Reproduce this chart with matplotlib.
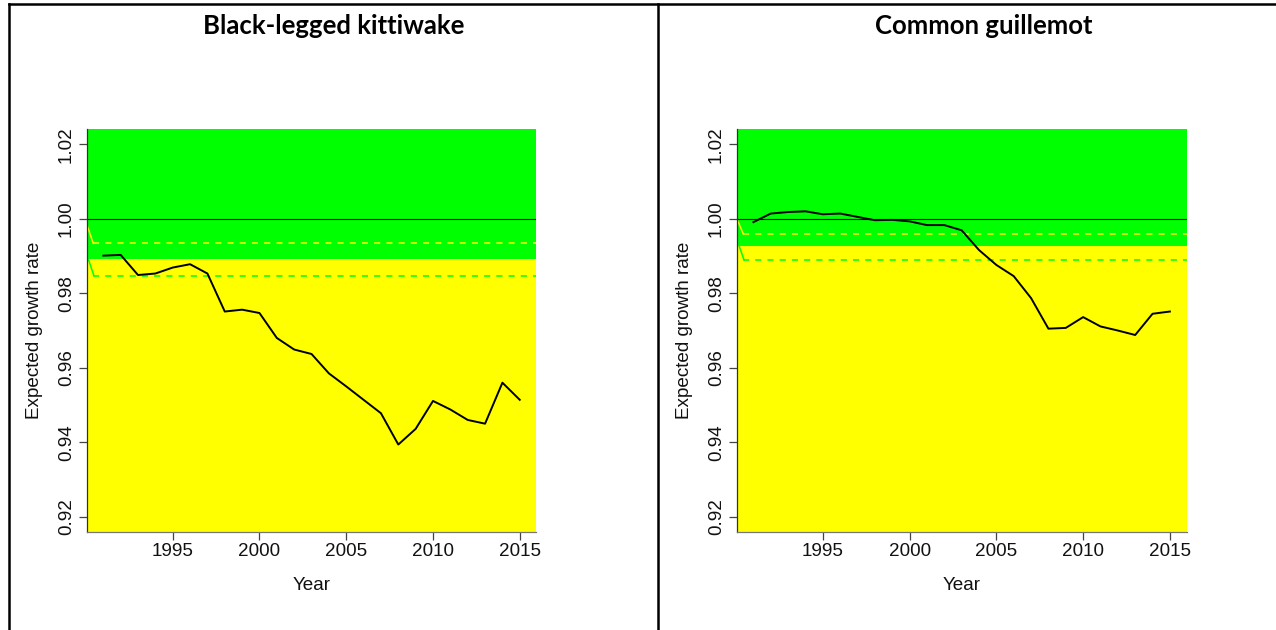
import numpy as np
import matplotlib
matplotlib.use('Agg')
from matplotlib import pyplot as plt
from matplotlib.lines import Line2D

plt.rcParams['font.family'] = ['Liberation Sans', 'DejaVu Sans']

years = np.arange(1991, 2016)

# expected growth rate per year
kittiwake = [0.9901, 0.9903, 0.9849, 0.9853, 0.9869, 0.9878, 0.9853, 0.9751, 0.9756,
             0.9747, 0.9680, 0.9649, 0.9637, 0.9585, 0.9550, 0.9514, 0.9478, 0.9394,
             0.9436, 0.9511, 0.9488, 0.9460, 0.9450, 0.9560, 0.9514]
guillemot = [0.9991, 1.0014, 1.0018, 1.0020, 1.0012, 1.0014, 1.0005, 0.9996, 0.9997,
             0.9993, 0.9983, 0.9983, 0.9969, 0.9916, 0.9876, 0.9846, 0.9787, 0.9705,
             0.9707, 0.9736, 0.9711, 0.9700, 0.9688, 0.9745, 0.9751]

species = ['Black-legged kittiwake', 'Common guillemot']
series = [kittiwake, guillemot]

# green/yellow split and the two dashed reference levels
boundary = [0.9891, 0.9928]
upper_ref = [0.9934, 0.9959]
lower_ref = [0.9847, 0.9889]
# where the dashed lines come in from at the left edge
upper_start = [0.9986, 1.0000]
lower_start = [0.9894, 0.9935]

xlo, xhi = 1990.04, 2015.96
ylo, yhi = 0.916, 1.024

fig = plt.figure(figsize=(12.76, 6.30), dpi=100)

axes_left = [0.0679, 0.5774]
title_x = [334, 984]

for i in range(2):
    ax = fig.add_axes([axes_left[i], 0.1560, 0.3525, 0.6387])
    ax.set_xlim(xlo, xhi)
    ax.set_ylim(ylo, yhi)

    ax.axhspan(boundary[i], yhi, color='#00ff00', lw=0, zorder=0)
    ax.axhspan(ylo, boundary[i], color='#ffff00', lw=0, zorder=0)

    ax.axhline(1.0, color='black', lw=0.8, zorder=2)

    dash = (0, (4.0, 4.0))
    ax.plot([1990.42, xhi], [upper_ref[i]] * 2, color='#ffff00', lw=1.1, ls=dash, zorder=2)
    ax.plot([1990.42, xhi], [lower_ref[i]] * 2, color='#00ff00', lw=1.1, ls=dash, zorder=2)
    ax.plot([xlo, 1990.42], [upper_start[i], upper_ref[i]], color='#ffff00', lw=1.1, zorder=2)
    ax.plot([xlo, 1990.38], [lower_start[i], lower_ref[i]], color='#ffff00', lw=1.1, zorder=2)
    ax.plot([xlo + 0.08, 1990.46], [lower_start[i], lower_ref[i]], color='#00ff00', lw=1.1, zorder=2)

    ax.plot(years, series[i], color='black', lw=1.4, zorder=3)

    for side in ['top', 'right']:
        ax.spines[side].set_visible(False)
    ax.spines['left'].set_color('#333333')
    ax.spines['bottom'].set_color('#777777')
    ax.spines['left'].set_linewidth(0.9)
    ax.spines['bottom'].set_linewidth(0.9)

    ax.set_xticks([1995, 2000, 2005, 2010, 2015])
    ax.set_yticks([0.92, 0.94, 0.96, 0.98, 1.00, 1.02])
    ax.set_yticklabels(['0.92', '0.94', '0.96', '0.98', '1.00', '1.02'],
                       rotation=90, va='center')
    ax.tick_params(axis='both', direction='out', length=5.5, width=0.9,
                   color='#444444', labelsize=13.6, labelcolor='#111111')
    ax.tick_params(axis='x', pad=2.5)
    ax.tick_params(axis='y', pad=3)

    ax.set_xlabel('Year', fontsize=13.6, color='#111111')
    ax.xaxis.set_label_coords(0.5, -0.1325)
    ax.xaxis.label.set_va('center')
    ax.set_ylabel('Expected growth rate', fontsize=13.6, color='#111111')
    ax.yaxis.set_label_coords(-0.116, 0.5)
    ax.yaxis.label.set_va('center')

    fig.text(title_x[i] / 1276, 1 - 26 / 630, species[i], ha='center', va='center',
             fontsize=18.5, fontweight='bold', family=['Lato', 'DejaVu Sans'])

# table frame around the two panels
W, H = 1276, 630
frame = [([8.7, W], [4, 4]), ([8.7, 8.7], [4, H]), ([658, 658], [4, H])]
for xs, ys in frame:
    fig.add_artist(Line2D([x / W for x in xs], [1 - y / H for y in ys],
                          color='black', lw=1.8, transform=fig.transFigure))

plt.savefig('out.png', dpi=100)
